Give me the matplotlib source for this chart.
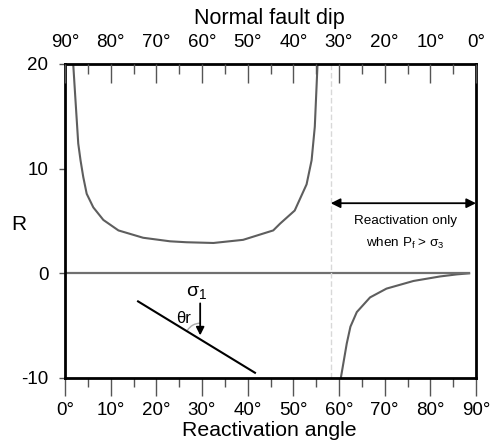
import numpy as np
import matplotlib
matplotlib.use("Agg")
import matplotlib.pyplot as plt
from matplotlib.patches import Arc
from matplotlib.transforms import ScaledTranslation

plt.rcParams['font.family'] = ['Liberation Sans', 'DejaVu Sans']
plt.rcParams['mathtext.fontset'] = 'custom'
plt.rcParams['mathtext.rm'] = 'Liberation Sans'

# Stress ratio R against reactivation angle (degrees)
theta_pos = [1.8, 2.2, 2.9, 3.4, 4.0, 4.75, 6.2, 8.4, 11.7, 17.1, 23.0, 26.6,
             32.5, 39.0, 45.6, 47.1, 50.3, 52.9, 54.0, 54.7, 55.3]
R_pos = [20.0, 17.2, 12.4, 10.8, 9.2, 7.6, 6.3, 5.1, 4.1, 3.4, 3.06, 2.97,
         2.9, 3.2, 4.1, 4.75, 6.0, 8.5, 10.8, 14.0, 20.0]

theta_neg = [60.4, 61.7, 62.5, 63.9, 66.8, 70.4, 76.3, 82.1, 85.8, 88.5]
R_neg = [-10.0, -6.7, -5.1, -3.7, -2.3, -1.46, -0.73, -0.3, -0.1, 0.0]

lockup_angle = 58.2
zero_line_x = [0, 88.5]
zero_line_y = [0, 0]

x_ticks = [0, 10, 20, 30, 40, 50, 60, 70, 80, 90]
x_tick_labels = ["0°", "10°", "20°", "30°", "40°", "50°", "60°", "70°", "80°", "90°"]
dip_tick_labels = ["90°", "80°", "70°", "60°", "50°", "40°", "30°", "20°", "10°", "0°"]
y_ticks = [-10, 0, 10, 20]
y_tick_labels = ["-10", "0", "10", "20"]

# fault sketch in the lower panel
fault_x = [16.0, 41.6]
fault_y = [-2.68, -9.5]
sigma_x = 29.6
sigma_top = -2.87
sigma_tip = -5.93

W, H = 495, 445
fig = plt.figure(figsize=(W / 100, H / 100), dpi=100)
ax = fig.add_axes([65 / W, 1 - 378 / H, (476 - 65) / W, (378 - 64) / H])

ax.plot(theta_pos, R_pos, color='#5e5e5e', lw=1.5)
ax.plot(theta_neg, R_neg, color='#5e5e5e', lw=1.5)
ax.plot(zero_line_x, zero_line_y, color='#707070', lw=1.6)
ax.plot([lockup_angle, lockup_angle], [-10, 20], color='#d8d8d8', lw=1.0,
        ls=(0, (4, 2)))

ax.set_xlim(0, 90)
ax.set_ylim(-10, 20)
ax.set_xticks(x_ticks)
ax.set_xticklabels(x_tick_labels)
ax.set_xticks(np.arange(5, 90, 10), minor=True)
ax.set_yticks(y_ticks)
ax.set_yticklabels(y_tick_labels)

for s in ax.spines.values():
    s.set_linewidth(2.0)
    s.set_color('black')

ax.tick_params(axis='x', which='major', direction='out', length=13, width=1.0,
               color='#555555', labelsize=13.5, pad=4)
ax.tick_params(axis='x', which='minor', direction='out', length=6.5, width=1.0,
               color='#555555')
ax.tick_params(axis='y', which='major', direction='out', length=4, width=1.0,
               color='#555555', labelsize=13.5, pad=8)

# Normal fault dip along the top
top = ax.twiny()
top.set_xlim(0, 90)
top.set_xticks(x_ticks)
top.set_xticklabels(dip_tick_labels)
top.set_xticks(np.arange(5, 90, 10), minor=True)
top.tick_params(axis='x', which='major', direction='in', length=13.5, width=1.0,
                color='#555555', labelsize=13.5, pad=9)
top.tick_params(axis='x', which='minor', direction='in', length=7, width=1.0,
                color='#555555')
for s in top.spines.values():
    s.set_visible(False)

# Region where reactivation needs Pf > sigma3
ax.annotate('', xy=(lockup_angle, 6.7), xytext=(90, 6.7),
            arrowprops=dict(arrowstyle='<|-|>', color='black', lw=1.3,
                            mutation_scale=14, shrinkA=0, shrinkB=0))
ax.text(74.6, 5.0, "Reactivation only", ha='center', va='center', fontsize=9.7)
ax.text(74.6, 2.9, r"when P$_\mathregular{f}$ > σ$_\mathregular{3}$",
        ha='center', va='center', fontsize=9.7)

# Fault sketch with sigma1 and reactivation angle
ax.plot(fault_x, fault_y, color='black', lw=1.5)
ax.annotate('', xy=(sigma_x, sigma_tip), xytext=(sigma_x, sigma_top),
            arrowprops=dict(arrowstyle='-|>', color='black', lw=1.3,
                            mutation_scale=12, shrinkA=0, shrinkB=0))
ax.text(28.9, -1.9, r"σ$_\mathregular{1}$", ha='center', va='center', fontsize=14)
ax.text(26.0, -4.3, "θr", ha='center', va='center', fontsize=12)
arc_tr = fig.dpi_scale_trans + ScaledTranslation(sigma_x, -6.2, ax.transData)
ax.add_patch(Arc((0, 0), 0.30, 0.30, theta1=90, theta2=148.7,
                 transform=arc_tr, color='#aaaaaa', lw=1.0))

# Axis titles
fig.text(269.5 / W, 1 - 24 / H, "Normal fault dip", ha='center', va='baseline',
         fontsize=15.5)
fig.text(269 / W, 1 - 436 / H, "Reactivation angle", ha='center', va='baseline',
         fontsize=15.3)
fig.text(18.5 / W, 1 - 230 / H, "R", ha='center', va='baseline', fontsize=15)

fig.savefig("out.png", dpi=100)
